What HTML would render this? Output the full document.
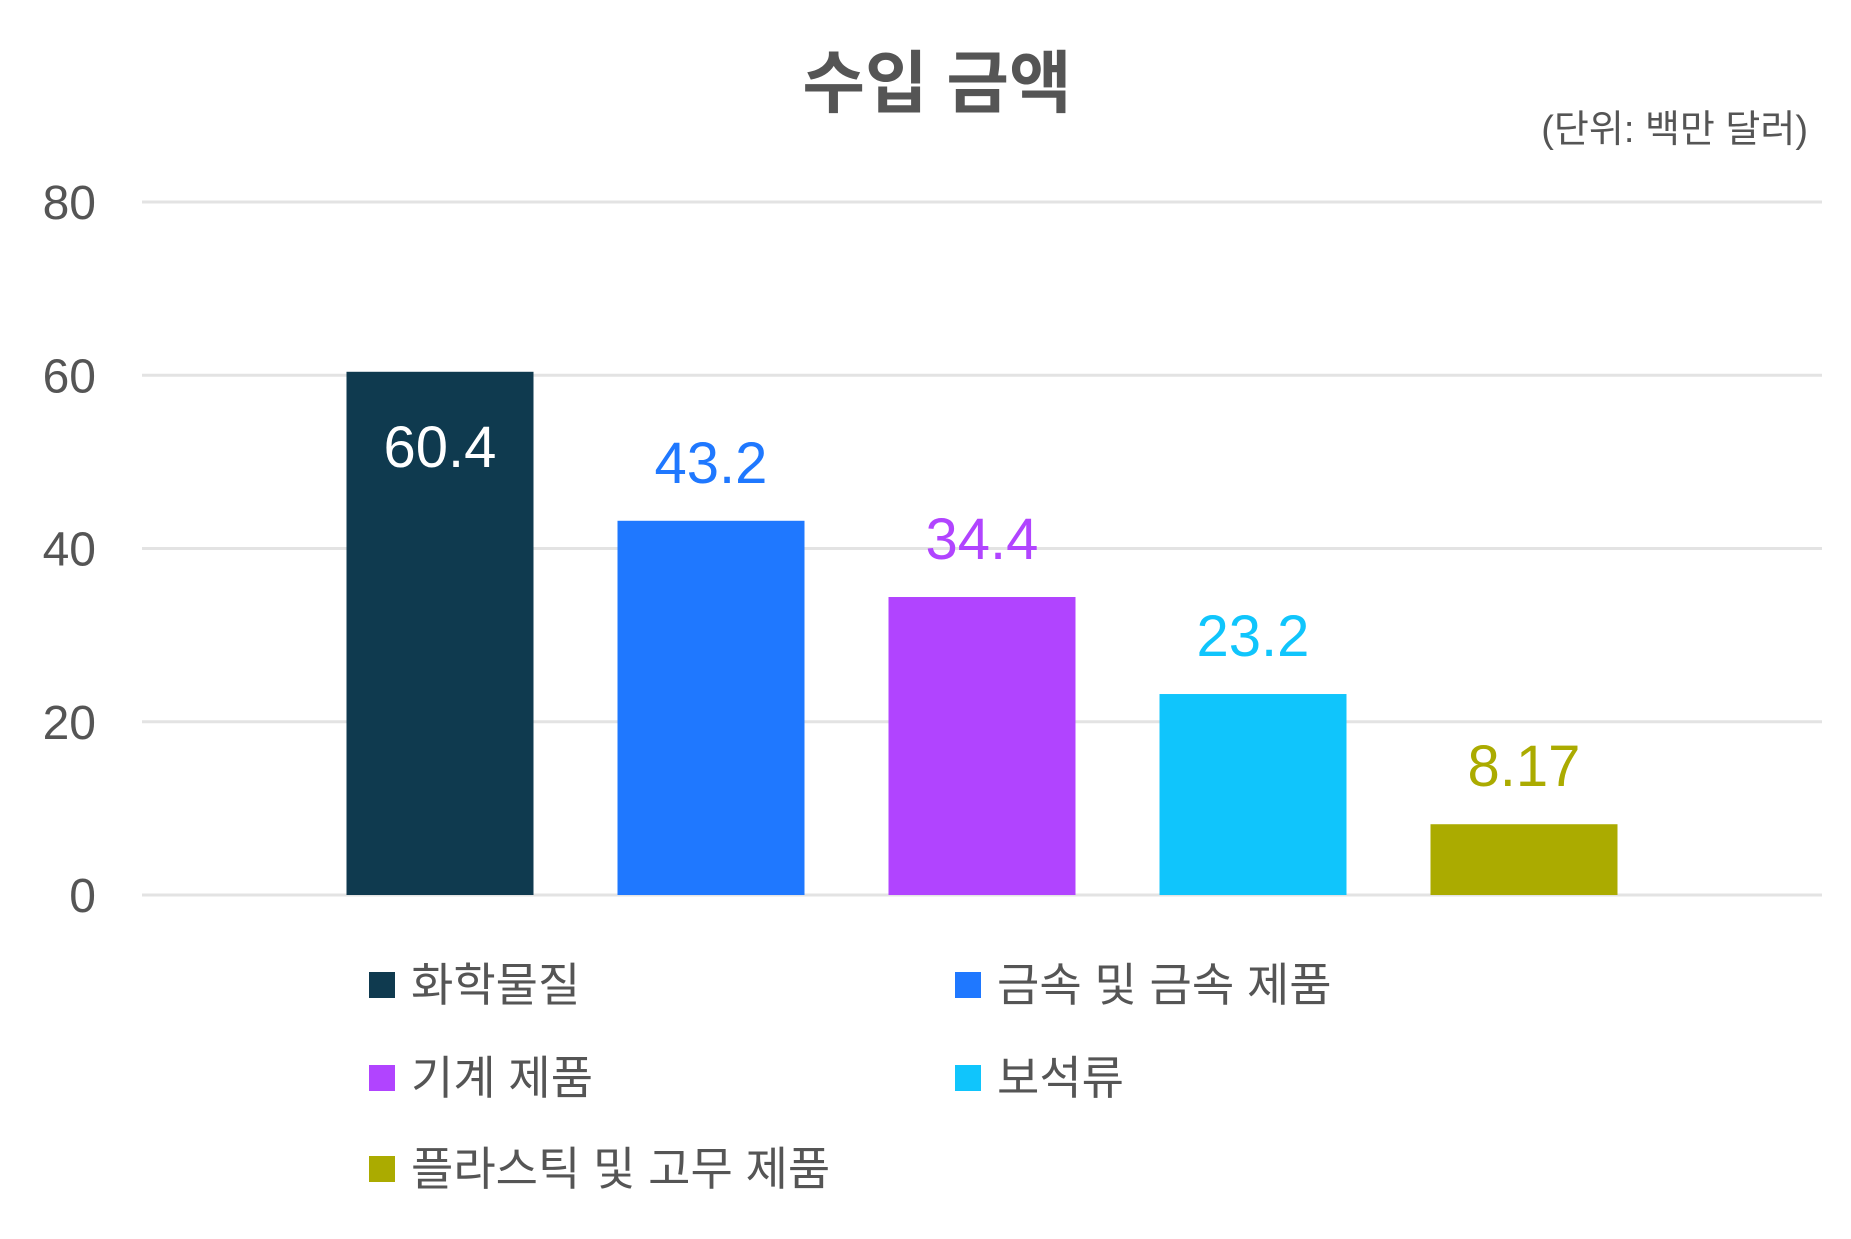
<!DOCTYPE html>
<html><head><meta charset="utf-8">
<style>
html,body{margin:0;padding:0;background:#fff;}
body{width:1851px;height:1234px;overflow:hidden;font-family:"Liberation Sans","Noto Sans CJK KR",sans-serif;}
svg text{font-family:"Liberation Sans","Noto Sans CJK KR",sans-serif;}
</style></head>
<body>
<svg id="chart" width="1851" height="1234" xmlns="http://www.w3.org/2000/svg">
<text x="937" y="107" text-anchor="middle" font-size="68" font-weight="bold" fill="#555">수입 금액</text>
<text x="1808" y="142" text-anchor="end" font-size="38" fill="#555">(단위: 백만 달러)</text>
<g id="grid"></g>
<g id="yticks"></g>
<g id="bars"></g>
<g id="labels"></g>
<g id="legend"></g>
</svg>
<script>
const categories = ["화학물질","금속 및 금속 제품","기계 제품","보석류","플라스틱 및 고무 제품"];
const values = [60.4, 43.2, 34.4, 23.2, 8.17];
const valueLabels = ["60.4","43.2","34.4","23.2","8.17"];
const colors = ["#0f3a4f","#1f78ff","#b144ff","#10c5fc","#abab00"];
const tickValues = [0,20,40,60,80];
const tickLabels = ["0","20","40","60","80"];

const NS="http://www.w3.org/2000/svg";
const plotLeft=142, plotRight=1822, y0=895, y80=202;
const yScale=v=>y0-(y0-y80)*v/80;
const step=271, firstCenter=440, barW=187;
const xCenter=i=>firstCenter+i*step;
function mk(tag,attrs,parent){const e=document.createElementNS(NS,tag);for(const k in attrs)e.setAttribute(k,attrs[k]);parent.appendChild(e);return e;}
const grid=document.getElementById('grid'), yt=document.getElementById('yticks');
tickValues.forEach((t,i)=>{
  const l=mk('line',{x1:plotLeft,x2:plotRight,y1:yScale(t),y2:yScale(t),stroke:'#e3e3e3','stroke-width':3},grid);
  
  
  const tx=mk('text',{x:96,y:yScale(t)+17,'text-anchor':'end','font-size':48,fill:'#555'},yt);
  tx.textContent=tickLabels[i];
  
  
});
const bars=document.getElementById('bars'), labs=document.getElementById('labels');
values.forEach((v,i)=>{
  const r=mk('rect',{x:xCenter(i)-barW/2,y:yScale(v),width:barW,height:y0-yScale(v),fill:colors[i]},bars);
  
  
  const inside=i===0;
  const ly=inside? yScale(v)+95 : yScale(v)-38;
  const t=mk('text',{x:xCenter(i),y:ly,'text-anchor':'middle','font-size':58,fill:inside?'#fff':colors[i]},labs);
  t.textContent=valueLabels[i];
  
  
});
const lg=document.getElementById('legend');
const legPos=[[369,985],[955,985],[369,1078],[955,1078],[369,1169]];
categories.forEach((c,i)=>{
  const [x,y]=legPos[i];
  const g=mk('g',{},lg);
  
  
  const s=mk('rect',{x:x,y:y-13,width:26,height:26,fill:colors[i]},g);
  
  
  const t=mk('text',{x:x+42,y:y+16,'font-size':46,fill:'#555'},g);
  t.textContent=c;
  
  
});
</script>
</body></html>
